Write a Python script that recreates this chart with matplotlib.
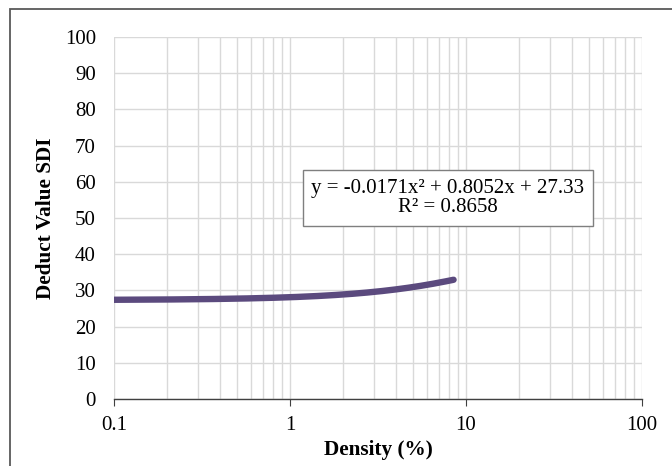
import numpy as np
import matplotlib
matplotlib.use("Agg")
import matplotlib.pyplot as plt
from matplotlib.patches import Rectangle
from matplotlib.ticker import LogLocator, NullFormatter, FixedLocator, FixedFormatter

plt.rcParams["font.family"] = ["Liberation Serif", "DejaVu Serif"]

# polynomial trendline as printed on the chart, and the x-range it covers
coef = [-0.0171, 0.8052, 27.33]
r2 = 0.8658
x_start, x_end = 0.1, 8.5

x_ticks = [0.1, 1, 10, 100]
x_labels = ["0.1", "1", "10", "100"]
y_ticks = list(range(0, 101, 10))

W, H = 672, 466
fig = plt.figure(figsize=(W / 100, H / 100), dpi=100)
ax = fig.add_axes([114 / W, 1 - 399 / H, (642 - 114) / W, (399 - 37) / H])

# outer chart frame (runs past the right and bottom edges)
fig.patches.append(Rectangle((10 / W, -0.1), 1.2, 1 - 9 / H + 0.1, transform=fig.transFigure,
                             fill=False, ec="#595959", lw=1.3, zorder=0))

xs = np.logspace(np.log10(x_start), np.log10(x_end), 300)
ax.plot(xs, np.polyval(coef, xs), color="#5b4a7e", lw=4.6, solid_capstyle="round", zorder=3)

ax.set_xscale("log")
ax.set_xlim(0.1, 100)
ax.set_ylim(0, 100)
ax.xaxis.set_major_locator(FixedLocator(x_ticks))
ax.xaxis.set_major_formatter(FixedFormatter(x_labels))
ax.xaxis.set_minor_locator(LogLocator(base=10, subs=np.arange(2, 10)))
ax.xaxis.set_minor_formatter(NullFormatter())
ax.set_yticks(y_ticks)

ax.grid(which="both", axis="x", color="#d9d9d9", lw=1.0)
ax.grid(which="major", axis="y", color="#d9d9d9", lw=1.0)
ax.set_axisbelow(True)
for s in ["left", "top", "right"]:
    ax.spines[s].set_visible(False)
ax.spines["bottom"].set_color("#404040")
ax.spines["bottom"].set_linewidth(1.0)
ax.tick_params(axis="x", which="major", direction="out", length=5, color="#404040",
               labelsize=15, pad=7)
ax.tick_params(axis="x", which="minor", length=0)
ax.tick_params(axis="y", length=0, labelsize=15, pad=13)

ax.set_xlabel("Density (%)", fontsize=15.3, fontweight="bold", labelpad=4)
ax.set_ylabel("Deduct Value SDI", fontsize=15.3, fontweight="bold", labelpad=6)

eq = "y = -0.0171x² + 0.8052x + 27.33\nR² = 0.8658"
ax.text(448 / W, 1 - 198 / H, eq, transform=fig.transFigure, ha="center", va="center",
        fontsize=15, linespacing=1.0, zorder=4,
        bbox=dict(boxstyle="square,pad=0.42", fc="white", ec="#7f7f7f", lw=1.0))

fig.savefig("out.png", dpi=100)
